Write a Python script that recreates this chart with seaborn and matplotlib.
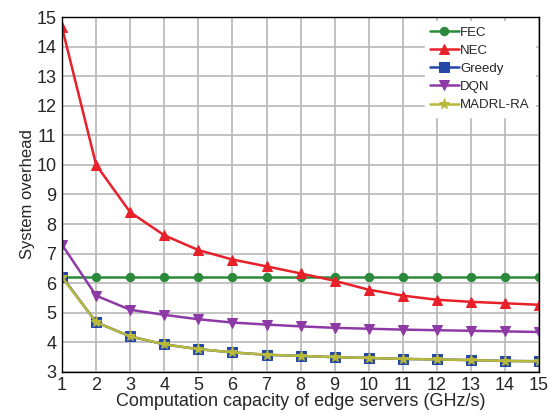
import numpy as np
import pandas as pd
import matplotlib
matplotlib.use("Agg")
import matplotlib.pyplot as plt
import seaborn as sns

# data
capacity = list(range(1, 16))
fec = [6.22] * 15
nec = [14.65, 10.0, 8.4, 7.62, 7.12, 6.8, 6.57, 6.33, 6.08, 5.78, 5.58, 5.44, 5.37, 5.32, 5.27]
greedy = [6.22, 4.68, 4.2, 3.93, 3.77, 3.66, 3.58, 3.54, 3.5, 3.47, 3.44, 3.42, 3.4, 3.37, 3.36]
dqn = [7.3, 5.58, 5.1, 4.93, 4.78, 4.67, 4.6, 4.54, 4.49, 4.46, 4.43, 4.41, 4.39, 4.37, 4.35]
madrl = [6.2, 4.68, 4.2, 3.93, 3.77, 3.66, 3.58, 3.54, 3.5, 3.47, 3.44, 3.42, 3.4, 3.37, 3.36]

series = {"FEC": fec, "NEC": nec, "Greedy": greedy, "DQN": dqn, "MADRL-RA": madrl}
colors = {"FEC": "#2a8a3a", "NEC": "#e8202a", "Greedy": "#2447a8", "DQN": "#8e3aa6", "MADRL-RA": "#b8b83a"}
markers = {"FEC": "o", "NEC": "^", "Greedy": "s", "DQN": "v", "MADRL-RA": "*"}
msize = {"FEC": 6, "NEC": 7, "Greedy": 7, "DQN": 7, "MADRL-RA": 8}

sns.set_style("white")
plt.rcParams['font.family'] = ['Liberation Sans', 'DejaVu Sans']

fig = plt.figure(figsize=(5.49, 4.16), dpi=100)
ax = fig.add_axes([0.113, 0.106, 0.869, 0.853])

for name, vals in series.items():
    df = pd.DataFrame({"x": capacity, "y": vals})
    sns.lineplot(data=df, x="x", y="y", ax=ax, color=colors[name], marker=markers[name],
                 markersize=msize[name], markeredgecolor=colors[name], linewidth=1.8, label=name)

ax.set_xlim(1, 15)
ax.set_ylim(3, 15)
ax.set_xticks(range(1, 16))
ax.set_yticks(range(3, 16))
ax.grid(True, color="#b8b8b8", linewidth=1.2)
for s in ax.spines.values():
    s.set_color("black")
    s.set_linewidth(1.0)
ax.tick_params(axis="both", labelsize=13, length=3, direction="out", pad=1)
ax.set_xlabel("Computation capacity of edge servers (GHz/s)", fontsize=13, labelpad=-1)
ax.set_ylabel("System overhead", fontsize=12, labelpad=1)

leg = ax.legend(loc="upper right", fontsize=9.5, frameon=True, fancybox=False,
                handlelength=2.2, handletextpad=0.1, labelspacing=0.45,
                borderaxespad=0.3, borderpad=0.4, edgecolor="white", framealpha=1)

fig.savefig("out.png", dpi=100)
